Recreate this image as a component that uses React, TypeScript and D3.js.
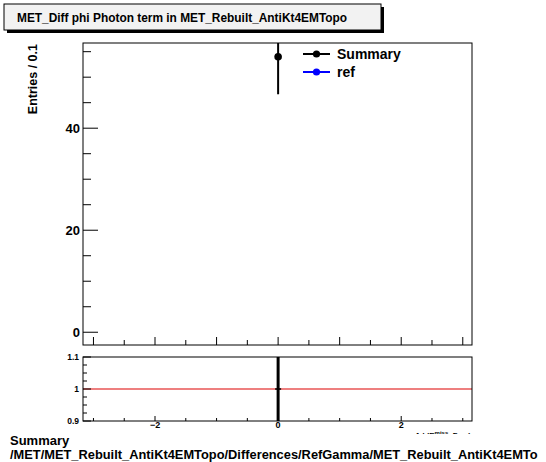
import React from "react";
import * as d3 from "d3";

// values
const summaryX = [0];
const summaryY = [54];
const summaryErr = [7.35];
const ratioY = [1];
const ratioErr = [1];
const mainYTicks = [0, 20, 40];
const ratioYTicks = [0.9, 1, 1.1];
const xLabelTicks = [-2, 0, 2];
const legendItems = [
  { label: "Summary", color: "#000000" },
  { label: "ref", color: "#0000ff" },
];

const W = 546;
const H = 462;
const FONT = "'Liberation Sans', Arial, Helvetica, sans-serif";

const main = { left: 83, right: 472, top: 43, bottom: 345 };
const ratio = { left: 83, right: 472, top: 357, bottom: 421 };

export default function App() {
  const x = d3.scaleLinear().domain([-3.17, 3.15]).range([main.left, main.right]);
  const y = d3.scaleLinear().domain([-2.5, 56.7]).range([main.bottom, main.top]);
  const yr = d3.scaleLinear().domain([0.9, 1.1]).range([ratio.bottom, ratio.top]);

  const xMinor = d3.range(-3, 3.01, 0.5);
  const yMinor = d3.range(0, 56, 5);
  const yrMinor = d3.range(0.9, 1.1001, 0.025);

  const clip = (v: number, lo: number, hi: number) => Math.max(lo, Math.min(hi, v));

  return (
    <svg
      width={W}
      height={H}
      style={{ position: "absolute", left: 0, top: 0, background: "#fff" }}
      fontFamily={FONT}
    >
      <rect x={0} y={0} width={W} height={H} fill="#fff" />

      {/* title box */}
      <rect x={7} y={7} width={377} height={26} fill="#000" />
      <rect x={4} y={4} width={377} height={26} fill="#f2f2f2" stroke="#000" strokeWidth={1} />
      <text x={17} y={22} fontSize={11.9} fontWeight="bold">
        MET_Diff phi Photon term in MET_Rebuilt_AntiKt4EMTopo
      </text>

      {/* main frame */}
      <rect
        x={main.left}
        y={main.top}
        width={main.right - main.left}
        height={main.bottom - main.top}
        fill="none"
        stroke="#000"
      />
      {yMinor.map((v) => {
        const major = mainYTicks.includes(v);
        return (
          <line
            key={"ym" + v}
            x1={main.left}
            x2={main.left + (major ? 15 : 8)}
            y1={y(v)}
            y2={y(v)}
            stroke="#000"
          />
        );
      })}
      {mainYTicks.map((v) => (
        <text
          key={"yl" + v}
          x={80}
          y={y(v) + 5}
          textAnchor="end"
          fontSize={13}
          fontWeight="bold"
        >
          {v}
        </text>
      ))}
      {xMinor.map((v) => {
        const major = Math.abs(v - Math.round(v)) < 1e-6;
        return (
          <line
            key={"xm" + v}
            x1={x(v)}
            x2={x(v)}
            y1={main.bottom}
            y2={main.bottom - (major ? 8 : 5)}
            stroke="#000"
          />
        );
      })}
      <text
        transform={`translate(37, 44) rotate(-90)`}
        textAnchor="end"
        fontSize={12.5}
        fontWeight="bold"
      >
        Entries / 0.1
      </text>

      {/* summary points */}
      {summaryX.map((v, i) => (
        <g key={"s" + i}>
          <line
            x1={x(v)}
            x2={x(v)}
            y1={clip(y(summaryY[i] + summaryErr[i]), main.top, main.bottom)}
            y2={clip(y(summaryY[i] - summaryErr[i]), main.top, main.bottom)}
            stroke="#000"
            strokeWidth={2}
          />
          <circle cx={x(v)} cy={y(summaryY[i])} r={3.8} fill="#000" />
        </g>
      ))}

      {/* legend */}
      {legendItems.map((d, i) => (
        <g key={d.label} transform={`translate(303, ${54 + i * 18})`}>
          <line x1={0} x2={27} y1={0} y2={0} stroke={d.color} strokeWidth={2} />
          <circle cx={13.5} cy={0} r={3.6} fill={d.color} />
          <text x={34} y={5} fontSize={14} fontWeight="bold">
            {d.label}
          </text>
        </g>
      ))}

      {/* ratio frame */}
      <line x1={ratio.left} x2={ratio.right} y1={yr(1)} y2={yr(1)} stroke="#dd0000" strokeWidth={1.2} />
      <rect
        x={ratio.left}
        y={ratio.top}
        width={ratio.right - ratio.left}
        height={ratio.bottom - ratio.top}
        fill="none"
        stroke="#000"
      />
      {yrMinor.map((v, i) => {
        const major = i % 4 === 0;
        return (
          <line
            key={"yrm" + i}
            x1={ratio.left}
            x2={ratio.left + (major ? 8 : 4)}
            y1={yr(v)}
            y2={yr(v)}
            stroke="#000"
          />
        );
      })}
      {ratioYTicks.map((v) => (
        <text
          key={"yrl" + v}
          x={79}
          y={yr(v) + 3}
          textAnchor="end"
          fontSize={8.5}
          fontWeight="bold"
        >
          {v}
        </text>
      ))}
      {xMinor.map((v) => {
        const major = xLabelTicks.includes(v);
        return (
          <line
            key={"xrm" + v}
            x1={x(v)}
            x2={x(v)}
            y1={ratio.bottom}
            y2={ratio.bottom - (major ? 5 : 3)}
            stroke="#000"
          />
        );
      })}
      {ratioY.map((v, i) => (
        <g key={"r" + i}>
          <line
            x1={x(summaryX[i])}
            x2={x(summaryX[i])}
            y1={clip(yr(v + ratioErr[i]), ratio.top, ratio.bottom)}
            y2={clip(yr(v - ratioErr[i]), ratio.top, ratio.bottom)}
            stroke="#000"
            strokeWidth={3}
          />
          <line
            x1={x(summaryX[i]) - 3}
            x2={x(summaryX[i]) + 3}
            y1={yr(v)}
            y2={yr(v)}
            stroke="#000"
            strokeWidth={1.5}
          />
        </g>
      ))}
      {xLabelTicks.map((v) => (
        <text
          key={"xl" + v}
          x={x(v)}
          y={428}
          textAnchor="middle"
          fontSize={9}
          fontWeight="bold"
        >
          {v === -2 ? "\u22122" : v}
        </text>
      ))}

      {/* x axis title, mostly covered by the bottom pad */}
      <text x={471} y={438} textAnchor="end" fontSize={8} fontWeight="bold">
        {"\u0394\u03d5(E"}
        <tspan fontSize={6} dy={-3}>miss</tspan>
        <tspan fontSize={8} dy={3}>{", \u03a3 p"}</tspan>
        <tspan fontSize={6} dy={2}>T</tspan>
        <tspan fontSize={8} dy={-2}>)</tspan>
      </text>
      <rect x={0} y={434} width={W} height={H - 434} fill="#fff" />

      {/* bottom captions */}
      <text x={10} y={445} fontSize={13} fontWeight="bold">
        Summary
      </text>
      <text x={10} y={459} fontSize={12.85} fontWeight="bold">
        /MET/MET_Rebuilt_AntiKt4EMTopo/Differences/RefGamma/MET_Rebuilt_AntiKt4EMTo
      </text>
    </svg>
  );
}
